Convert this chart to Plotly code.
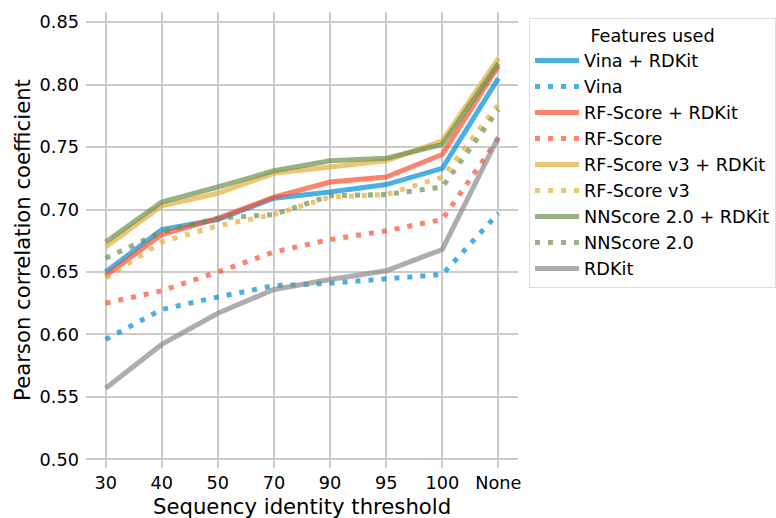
import plotly.graph_objects as go

thresholds = ["30", "40", "50", "70", "90", "95", "100", "None"]

vina_rdkit = [0.650, 0.684, 0.692, 0.709, 0.714, 0.720, 0.733, 0.805]
vina = [0.596, 0.620, 0.630, 0.639, 0.641, 0.645, 0.648, 0.697]
rf_rdkit = [0.647, 0.680, 0.693, 0.710, 0.722, 0.726, 0.744, 0.815]
rf = [0.625, 0.635, 0.650, 0.666, 0.676, 0.683, 0.692, 0.757]
rfv3_rdkit = [0.670, 0.703, 0.713, 0.729, 0.734, 0.739, 0.755, 0.821]
rfv3 = [0.645, 0.674, 0.687, 0.696, 0.710, 0.712, 0.726, 0.784]
nn_rdkit = [0.674, 0.706, 0.718, 0.731, 0.739, 0.741, 0.752, 0.817]
nn = [0.661, 0.682, 0.693, 0.696, 0.711, 0.712, 0.718, 0.780]
rdkit = [0.557, 0.592, 0.617, 0.636, 0.644, 0.651, 0.668, 0.758]

series = [
    ("Vina + RDKit", vina_rdkit, "#008fd5", "solid"),
    ("Vina", vina, "#008fd5", "dot"),
    ("RF-Score + RDKit", rf_rdkit, "#fc4f30", "solid"),
    ("RF-Score", rf, "#fc4f30", "dot"),
    ("RF-Score v3 + RDKit", rfv3_rdkit, "#e5ae38", "solid"),
    ("RF-Score v3", rfv3, "#e5ae38", "dot"),
    ("NNScore 2.0 + RDKit", nn_rdkit, "#6d904f", "solid"),
    ("NNScore 2.0", nn, "#6d904f", "dot"),
    ("RDKit", rdkit, "#8b8b8b", "solid"),
]

FONT = "DejaVu Sans"
fig = go.Figure()
for i, (name, vals, color, style) in enumerate(series):
    fig.add_trace(go.Scatter(
        x=list(range(len(thresholds))), y=vals, mode="lines", name=name,
        opacity=0.7,
        line=dict(color=color, width=5,
                  dash="solid" if style == "solid" else "5px,8px"),
    ))

fig.update_layout(
    width=776, height=518,
    margin=dict(l=86, r=258, t=12, b=50, autoexpand=False),
    paper_bgcolor="white", plot_bgcolor="white",
    font=dict(family=FONT, size=17.7, color="black"),
    showlegend=True,
    legend=dict(
        x=1.0255, y=0.986, xanchor="left", yanchor="top",
        title=dict(text="Features used", side="top center", font=dict(size=17.7)),
        bordercolor="#dddddd", borderwidth=1, bgcolor="white",
        font=dict(size=17.7), traceorder="normal", itemwidth=44,
    ),
    annotations=[dict(
        text="Sequency identity threshold", xref="paper", yref="paper",
        x=0.5, y=-0.0855, xanchor="center", yanchor="middle",
        showarrow=False, font=dict(size=21.2),
    )],
)
fig.update_xaxes(
    range=[-0.35, 7.35], automargin=False,
    tickmode="array", tickvals=list(range(len(thresholds))), ticktext=thresholds,
    showgrid=True, gridcolor="#cbcbcb", gridwidth=1.5,
    zeroline=False, showline=False, ticks="", ticklabelstandoff=2,
)
fig.update_yaxes(
    range=[0.4931, 0.8581], automargin=False,
    tickmode="array", tickvals=[0.50, 0.55, 0.60, 0.65, 0.70, 0.75, 0.80, 0.85],
    tickformat=".2f",
    showgrid=True, gridcolor="#cbcbcb", gridwidth=1.5,
    zeroline=False, showline=False, ticks="", ticklabelstandoff=6,
    title=dict(text="Pearson correlation coefficient", font=dict(size=21.2), standoff=3),
)

fig.write_html("out.html")
